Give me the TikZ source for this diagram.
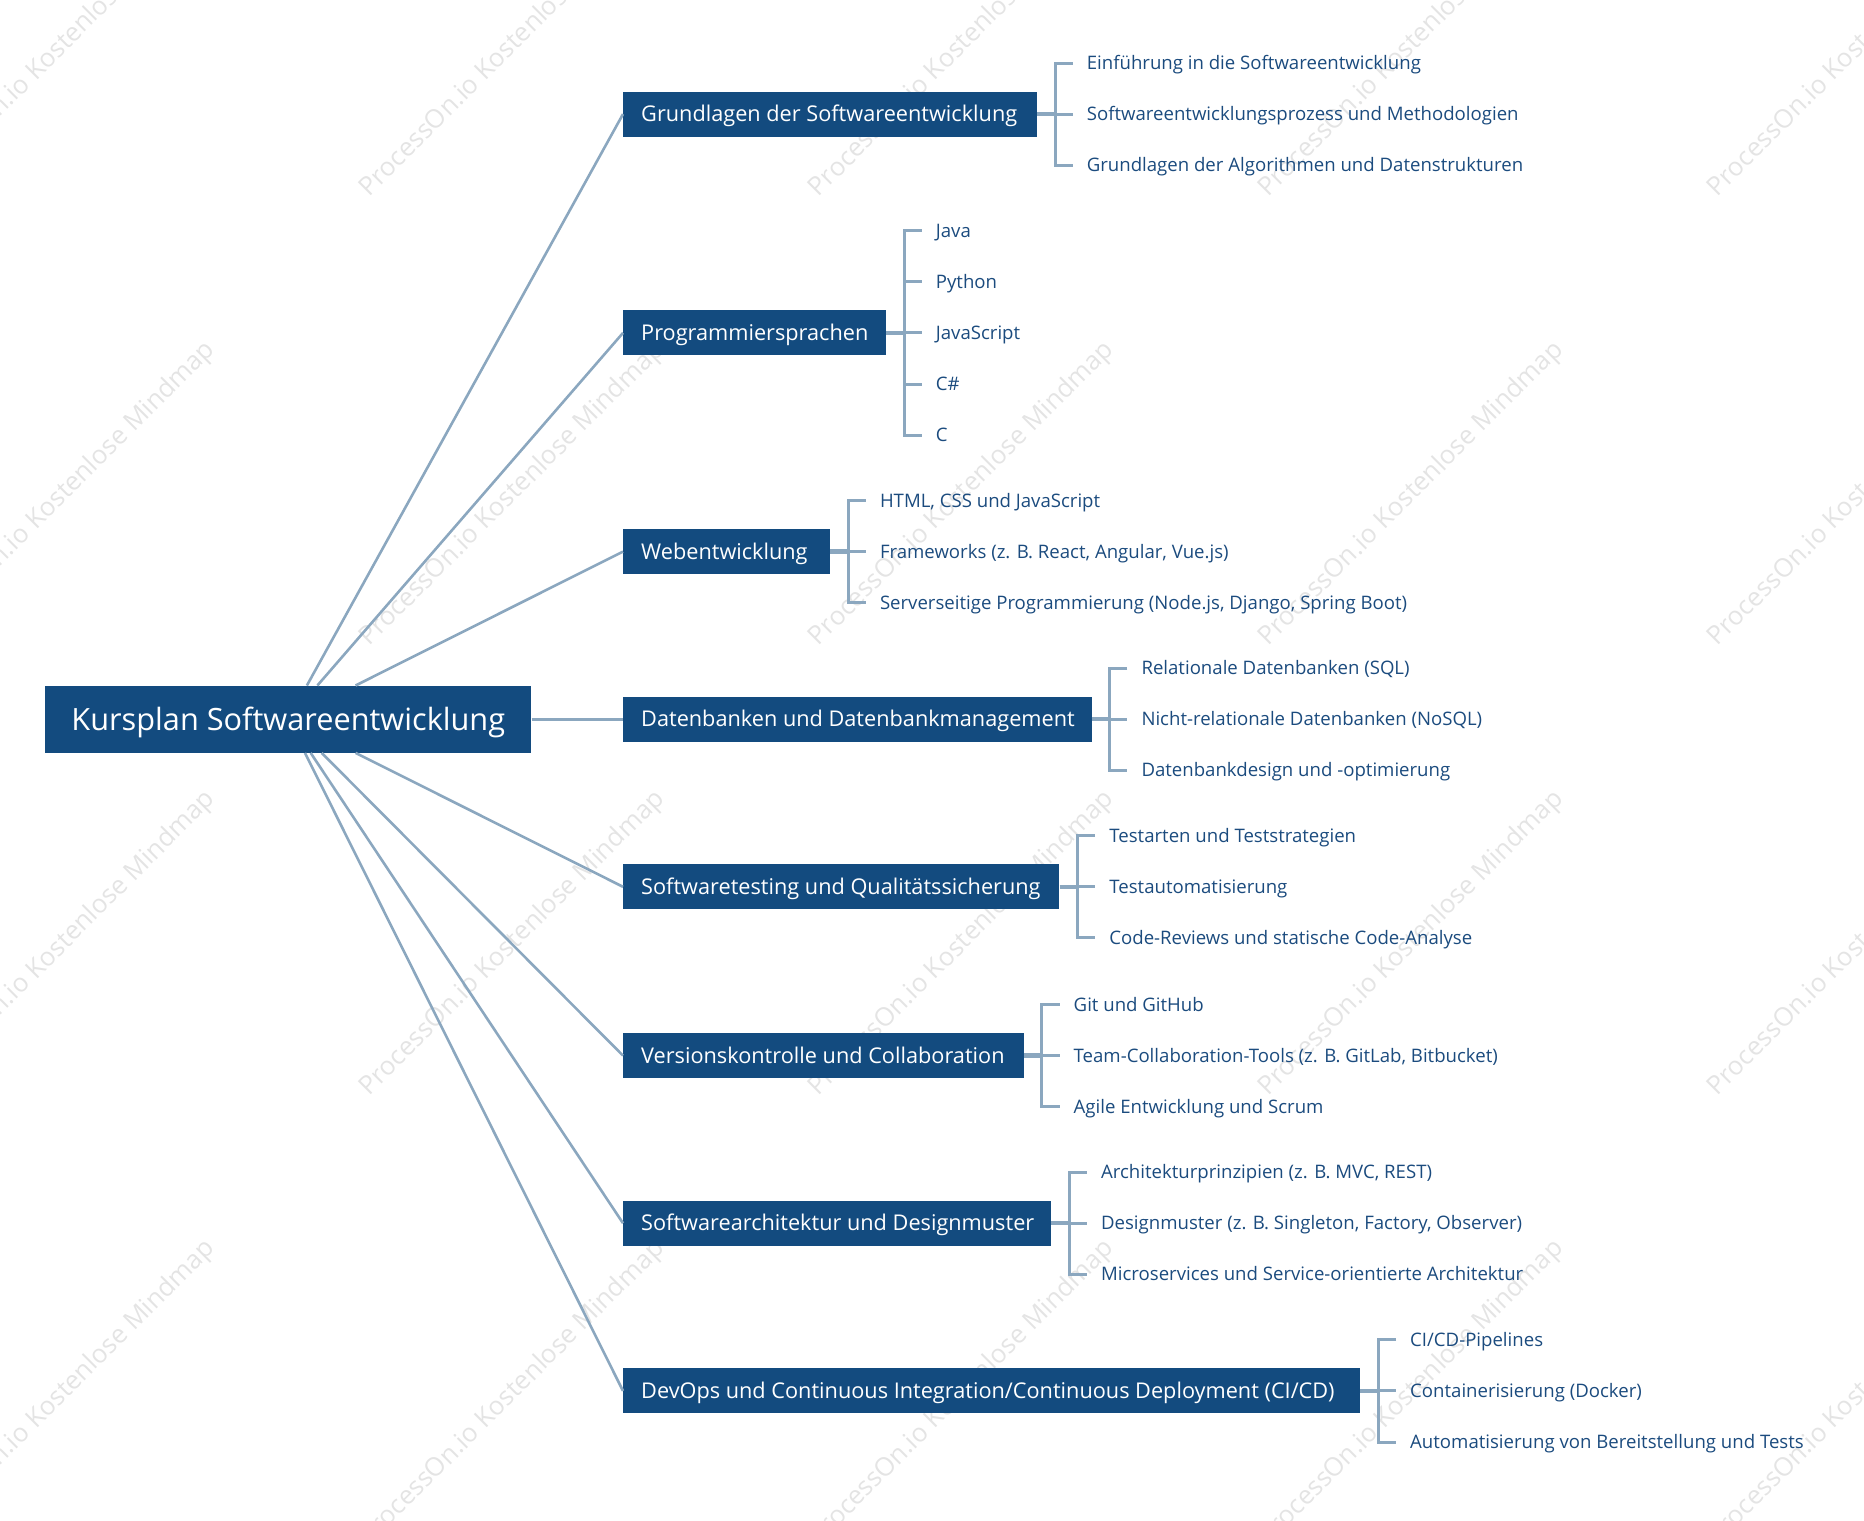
\documentclass[tikz,border=0pt]{standalone}
\usepackage{fontspec}
\setmainfont{Open Sans}
\usetikzlibrary{calc}
\definecolor{boxblue}{HTML}{134B7F}
\definecolor{linec}{HTML}{8BA7BF}
\definecolor{leaftext}{HTML}{1B4B7E}
\definecolor{wmark}{HTML}{E4E4E4}
\begin{document}
\begin{tikzpicture}[x=1pt,y=-1pt,
  rootbox/.style={fill=boxblue, text=white, minimum width=486pt, minimum height=67pt, inner sep=0pt, text height=22pt, text depth=0pt, font=\fontsize{30.7}{36}\selectfont},
  topicbox/.style={fill=boxblue, text=white, anchor=west, minimum height=45pt, inner xsep=18pt, inner ysep=0pt, text height=15.5pt, text depth=0pt, font=\fontsize{21.7}{26}\selectfont},
  leaf/.style={anchor=west, inner sep=0pt, text=leaftext, text height=13.3pt, text depth=0pt, font=\fontsize{18.6}{22}\selectfont},
  conn/.style={draw=linec, line width=2.6pt},
  stub/.style={draw=linec, line width=4.5pt},
  brk/.style={draw=linec, line width=3pt, line join=miter},
  wm/.style={text=wmark, rotate=45, anchor=base west, inner sep=0pt, font=\fontsize{25.8}{30}\selectfont}
]
\useasboundingbox (0,0) rectangle (1864,1521);

% watermarks
\foreach \k in {0,...,4}{
  \foreach \m in {0,...,3}{
    \node[wm] (wm-\k-\m) at ({-80+449.4*\k},{197.6+449.4*\m}) {ProcessOn.io Kostenlose Mindmap};
  }
}

% root
\node[rootbox] (root) at (288.3,719.2) {Kursplan Softwareentwicklung};

% topics
\node[topicbox] (t1) at (623,114.1) {\makebox[377.6pt][l]{Grundlagen der Softwareentwicklung}};
\node[topicbox] (t2) at (623,332.9) {\makebox[226.7pt][l]{Programmiersprachen}};
\node[topicbox] (t3) at (623,551.6) {\makebox[170.8pt][l]{Webentwicklung}};
\node[topicbox] (t4) at (623,719.2) {\makebox[432.3pt][l]{Datenbanken und Datenbankmanagement}};
\node[topicbox] (t5) at (623,886.8) {\makebox[400.2pt][l]{Softwaretesting und Qualitätssicherung}};
\node[topicbox] (t6) at (623,1055.6) {\makebox[364.5pt][l]{Versionskontrolle und Collaboration}};
\node[topicbox] (t7) at (623,1223.2) {\makebox[391.9pt][l]{Softwarearchitektur und Designmuster}};
\node[topicbox] (t8) at (623,1390.9) {\makebox[701pt][l]{DevOps und Continuous Integration/Continuous Deployment (CI/CD)}};

% root connectors
\foreach \t in {t1,t2,t3,t4,t5,t6,t7,t8}{
  \draw[conn] (root) -- (\t.west);
}

% leaves
\node[leaf] (t1a) at (1086.6,63.0) {Einführung in die Softwareentwicklung};
\node[leaf] (t1b) at (1086.6,114.1) {Softwareentwicklungsprozess und Methodologien};
\node[leaf] (t1c) at (1086.6,165.2) {Grundlagen der Algorithmen und Datenstrukturen};

\node[leaf] (t2a) at (935.7,230.7) {Java};
\node[leaf] (t2b) at (935.7,281.8) {Python};
\node[leaf] (t2c) at (935.7,332.9) {JavaScript};
\node[leaf] (t2d) at (935.7,384.0) {C\#};
\node[leaf] (t2e) at (935.7,435.1) {C};

\node[leaf] (t3a) at (879.8,500.5) {HTML, CSS und JavaScript};
\node[leaf] (t3b) at (879.8,551.6) {Frameworks (z. B. React, Angular, Vue.js)};
\node[leaf] (t3c) at (879.8,602.7) {Serverseitige Programmierung (Node.js, Django, Spring Boot)};

\node[leaf] (t4a) at (1141.3,668.1) {Relationale Datenbanken (SQL)};
\node[leaf] (t4b) at (1141.3,719.2) {Nicht-relationale Datenbanken (NoSQL)};
\node[leaf] (t4c) at (1141.3,770.3) {Datenbankdesign und -optimierung};

\node[leaf] (t5a) at (1109.2,835.7) {Testarten und Teststrategien};
\node[leaf] (t5b) at (1109.2,886.8) {Testautomatisierung};
\node[leaf] (t5c) at (1109.2,937.9) {Code-Reviews und statische Code-Analyse};

\node[leaf] (t6a) at (1073.5,1004.5) {Git und GitHub};
\node[leaf] (t6b) at (1073.5,1055.6) {Team-Collaboration-Tools (z. B. GitLab, Bitbucket)};
\node[leaf] (t6c) at (1073.5,1106.7) {Agile Entwicklung und Scrum};

\node[leaf] (t7a) at (1100.9,1172.1) {Architekturprinzipien (z. B. MVC, REST)};
\node[leaf] (t7b) at (1100.9,1223.2) {Designmuster (z. B. Singleton, Factory, Observer)};
\node[leaf] (t7c) at (1100.9,1274.3) {Microservices und Service-orientierte Architektur};

\node[leaf] (t8a) at (1410,1339.8) {CI/CD-Pipelines};
\node[leaf] (t8b) at (1410,1390.9) {Containerisierung (Docker)};
\node[leaf] (t8c) at (1410,1442.0) {Automatisierung von Bereitstellung und Tests};

% brackets
\foreach \t in {t1,t3,t4,t5,t6,t7,t8}{
  \coordinate (b\t) at ([xshift=18pt]\t.east);
  \draw[stub] (\t.east) -- (b\t);
  \draw[brk] ([xshift=-14pt]\t a.west) -- (b\t |- \t a.west) -- (b\t |- \t c.west) -- ([xshift=-14pt]\t c.west);
  \draw[brk] (b\t |- \t b.west) -- ([xshift=-14pt]\t b.west);
}
\coordinate (bt2) at ([xshift=18pt]t2.east);
\draw[stub] (t2.east) -- (bt2);
\draw[brk] ([xshift=-14pt]t2a.west) -- (bt2 |- t2a.west) -- (bt2 |- t2e.west) -- ([xshift=-14pt]t2e.west);
\foreach \c in {b,c,d}{
  \draw[brk] (bt2 |- t2\c.west) -- ([xshift=-14pt]t2\c.west);
}
\end{tikzpicture}
\end{document}
